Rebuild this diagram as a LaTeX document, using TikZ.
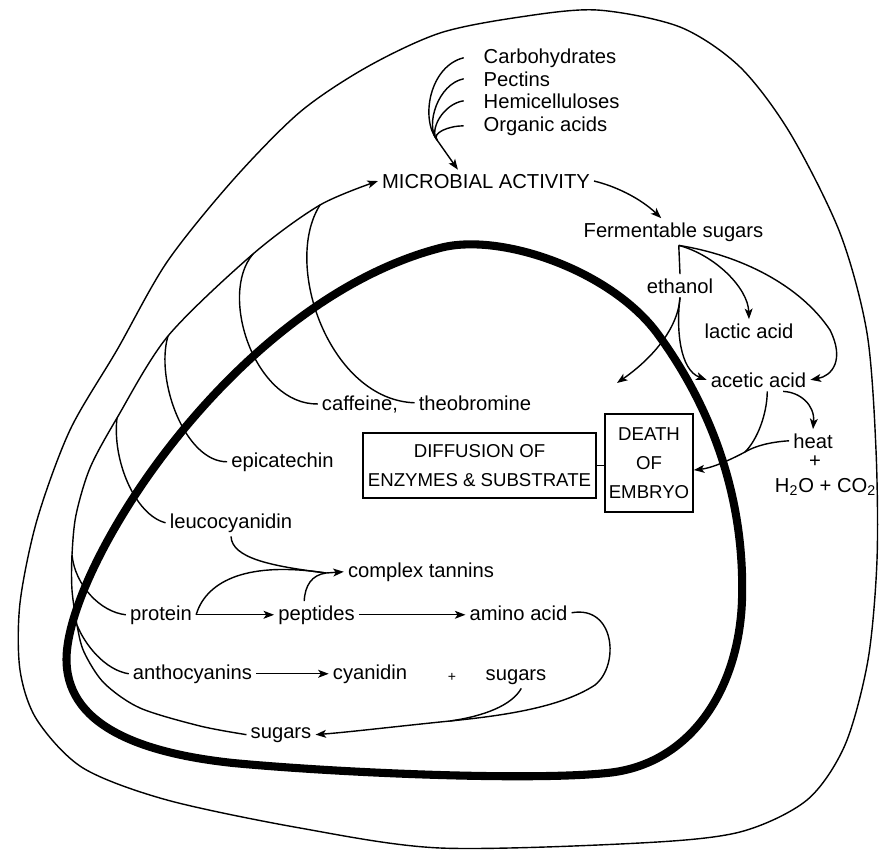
\documentclass[tikz,border=0pt]{standalone}
\usepackage{fontspec}
\setmainfont{Liberation Sans}
\usetikzlibrary{arrows.meta}

\tikzset{
  lbl/.style={inner sep=2pt, anchor=base},
  stage/.style={draw, line width=1pt, align=center, inner sep=2pt,
    font=\fontsize{10.6}{16.5}\selectfont},
  wall/.style={line width=4.6pt, line join=round},
}

\begin{document}
\begin{tikzpicture}[x=0.02cm, y=-0.02cm, line width=0.8pt,
    >={Stealth[length=6pt,width=4.5pt,inset=1.5pt]},
    font=\fontsize{11.5}{13.5}\selectfont]
    \useasboundingbox (0,0) rectangle (880,852);

    % bean outline and cotyledon wall
    \draw plot[smooth cycle] coordinates {(597,10) (680,27) (740,67) (790,133) (840,233)
      (867,333) (876,450) (877,560) (868,660) (845,745) (807,800) (740,832) (640,843)
      (440,848) (300,828) (167,800) (83,768) (37,720) (20,670) (20,603) (37,520) (70,430)
      (117,350) (167,262) (233,180) (300,112) (367,67) (440,33) (520,17)};
    \draw[wall] (233,763) .. controls (130,752) and (60,720) .. (67,650)
      .. controls (77,550) and (240,300) .. (440,248)
      .. controls (500,232) and (610,270) .. (657,333)
      .. controls (713,409) and (745,500) .. (742,600)
      .. controls (739,690) and (690,765) .. (607,773)
      .. controls (530,781) and (340,773) .. (233,763) -- cycle;

    \node[lbl, anchor=base west] (carb) at (479.5,63) {Carbohydrates};
    \node[lbl, anchor=base west] (pect) at (479.5,86) {Pectins};
    \node[lbl, anchor=base west] (hemi) at (479.5,108) {Hemicelluloses};
    \node[lbl, anchor=base west] (orga) at (479.5,131) {Organic acids};
    \node[lbl] (micro) at (486,188) {MICROBIAL ACTIVITY};
    \node[lbl] (ferm) at (673.5,237) {Fermentable sugars};
    \node[lbl] (eth) at (680,293) {ethanol};
    \node[lbl] (lactic) at (749,338) {lactic acid};
    \node[lbl] (acetic) at (758.5,387) {acetic acid};
    \node[lbl] (heat) at (813,448) {heat};
    \node[lbl] (plusA) at (815,467) {+};
    \node[lbl] (gas) at (825.5,492) {H\textsubscript{2}O + CO\textsubscript{2}};
    \node[lbl] (caff) at (360,410) {caffeine,};
    \node[lbl] (theo) at (475,410) {theobromine};
    \node[lbl] (epi) at (282.5,467) {epicatechin};
    \node[lbl] (leuco) at (231,528) {leucocyanidin};
    \node[lbl] (tannin) at (421,577) {complex tannins};
    \node[lbl] (protein) at (161,620) {protein};
    \node[lbl] (pept) at (316.5,620) {peptides};
    \node[lbl] (amino) at (518.5,620) {amino acid};
    \node[lbl] (antho) at (192.5,679) {anthocyanins};
    \node[lbl] (cyan) at (370,679) {cyanidin};
    \node[lbl, font=\footnotesize] (plusB) at (452,681) {+};
    \node[lbl] (sugarsR) at (516,680) {sugars};
    \node[lbl] (sugarsB) at (281,738) {sugars};

    \node[stage, minimum width=133pt, minimum height=37pt] (diff) at (479.5,465.5)
      {DIFFUSION OF\\ENZYMES \& SUBSTRATE};
    \node[stage, minimum width=50pt, minimum height=56pt] (death) at (649,463)
      {DEATH\\OF\\EMBRYO};
    \draw (diff.east) -- (diff.east -| death.west);

    % substrates feeding the microbes
    \coordinate (cm) at (437,140);
    \draw ([xshift=-9pt]carb.west) .. controls (430,66) and (420,118) .. (cm);
    \draw ([xshift=-9pt]pect.west) .. controls (438,84) and (425,125) .. (cm);
    \draw ([xshift=-9pt]hemi.west) .. controls (443,104) and (429,130) .. (cm);
    \draw ([xshift=-9pt]orga.west) .. controls (448,126) and (432,133) .. (cm);
    \draw[->] (cm) -- ([xshift=-16pt]micro.north);

    % fermentation
    \draw[->] (micro.east) .. controls (615,186) and (640,198) .. ([xshift=-7pt]ferm.north);
    \coordinate (fs) at ([xshift=3pt]ferm.south);
    \draw (fs) -- (eth.north);
    \draw[->] (fs) .. controls (715,255) and (748,288) .. (lactic.north);
    \draw[->] (fs) .. controls (740,255) and (800,285) .. (830,330)
      .. controls (845,360) and (832,376) .. (acetic.east);
    \coordinate (eA) at (617,383);
    \draw[->] (eth.south) .. controls (678,330) and (650,360) .. (eA);
    \draw[->] (eth.south) .. controls (676,330) and (680,370) .. (acetic.west);
    \draw[->] ([xshift=14pt]acetic.south) .. controls (800,392) and (815,405) .. (heat.north);
    \coordinate (m2) at (745,452);
    \draw ([xshift=5pt]acetic.south) .. controls (767,415) and (757,440) .. (m2);
    \draw[->] (heat.west) .. controls (770,442) and (755,446) .. (m2)
      .. controls (730,460) and (712,468) .. ([yshift=-4pt]death.east);

    % products collected back to the microbes
    \coordinate (jT) at (320,205);
    \coordinate (jC) at (253,254);
    \coordinate (jE) at (168,336);
    \coordinate (jL) at (117,418);
    \coordinate (jP) at (72,555);
    \coordinate (jA) at (77,625);
    \draw[->] plot[smooth] coordinates {(sugarsB.west) (200,726) (140,708) (104,683)
      (84,652) (jA) (72,590) (jP) (76,515) (90,468) (jL) (jE) (jC) (jT) (micro.west)};
    \draw (theo.west) .. controls (330,400) and (282,265) .. (jT);
    \draw (caff.west) .. controls (255,405) and (218,295) .. (jC);
    \draw (epi.west) .. controls (185,462) and (155,380) .. (jE);
    \draw (leuco.west) .. controls (135,515) and (112,460) .. (jL);
    \draw (protein.west) .. controls (100,612) and (75,585) .. (jP);
    \draw (antho.west) .. controls (105,670) and (85,645) .. (jA);

    % tannins and breakdown
    \coordinate (tm) at (326,573);
    \draw (leuco.south) .. controls (232,558) and (270,566) .. (tm);
    \draw (protein.east) .. controls (205,585) and (240,560) .. (tm);
    \draw ([xshift=-7pt]pept.north) .. controls (305,585) and (312,575) .. (tm);
    \draw[->] (tm) -- (tannin.west);
    \draw[->] (protein.east) -- (pept.west);
    \draw[->] (pept.east) -- (pept.east -| amino.west);
    \draw[->] (antho.east) -- (cyan.west);
    \coordinate (sm) at (450,721);
    \draw[->] (amino.east) .. controls (615,605) and (620,665) .. (595,685)
      .. controls (560,708) and (500,716) .. (sm)
      .. controls (400,726) and (350,732) .. (sugarsB.east);
    \draw ([xshift=3pt]sugarsR.south) .. controls (512,705) and (485,716) .. (sm);
\end{tikzpicture}
\end{document}
